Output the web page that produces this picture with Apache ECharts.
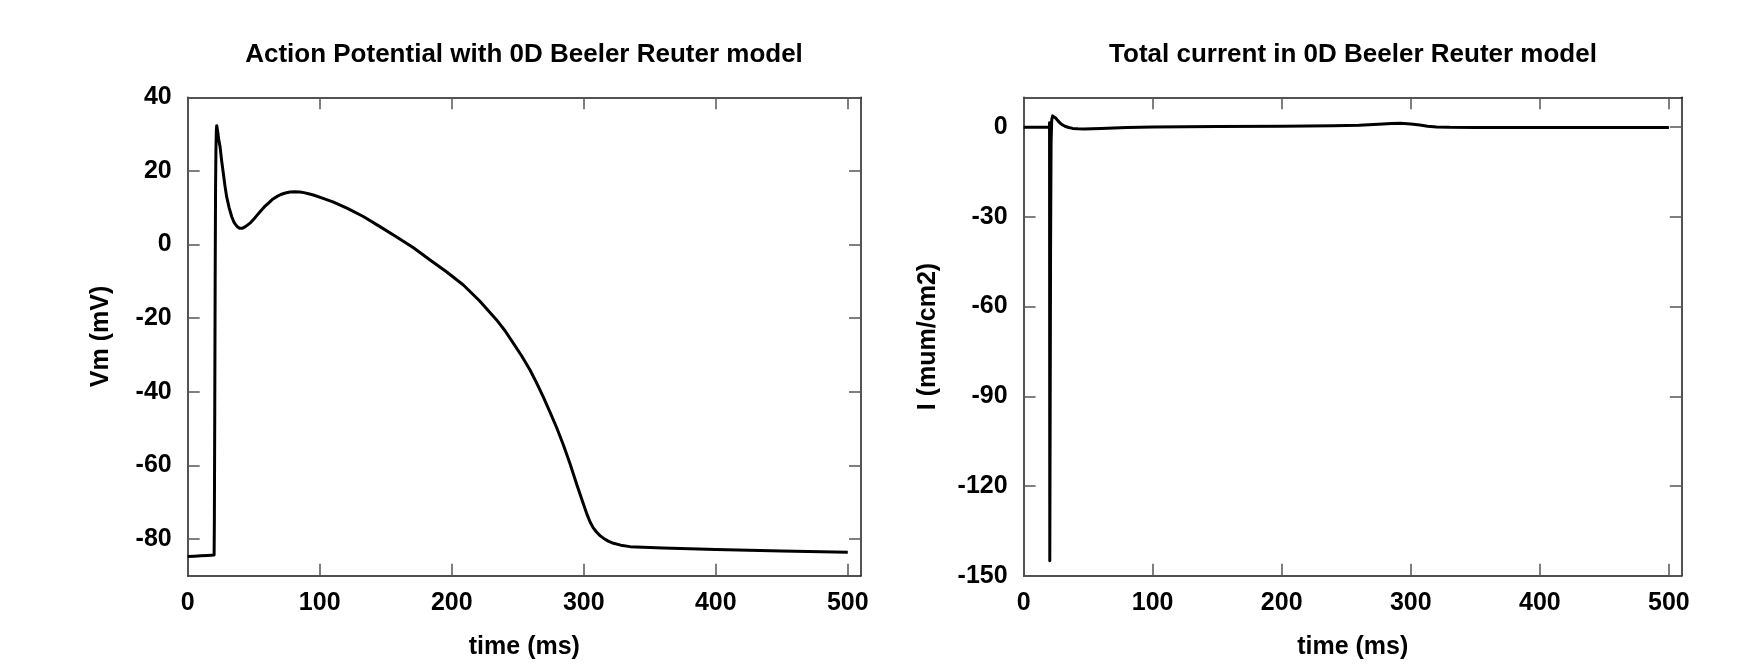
<!DOCTYPE html>
<html>
<head>
<meta charset="utf-8">
<script src="https://cdn.jsdelivr.net/npm/echarts@6.0.0/dist/echarts.min.js"></script>
<style>
html,body{margin:0;padding:0;background:#fff;}
#chart{width:1752px;height:665px;}
</style>
</head>
<body>
<div id="chart"></div>
<script>
// ---- Data ----
var apTime = [0, 5, 10, 15, 20, 20.2, 20.5, 20.8, 21.1, 21.4, 21.7, 22, 22.3, 22.8, 23.5, 24.5, 25.7, 27, 28.2, 29.5, 31.3, 33.3, 35, 36.5, 38, 39.6, 41.3, 43, 45, 47.2, 51, 54.8, 58, 61, 64, 67.4, 70.5, 74, 77.5, 81.3, 85, 88, 91.5, 95.2, 102, 110, 121, 133, 145, 158, 171, 183.6, 196, 208.8, 221, 234, 240.5, 246.6, 253, 259.3, 264, 269.4, 274.5, 279.5, 284.5, 289.6, 294.7, 299.8, 302.3, 304.8, 307.2, 309.8, 312.3, 314.9, 318.5, 322.5, 328, 335, 345, 360, 400, 450, 500];
var apVm   = [-84.8, -84.7, -84.6, -84.5, -84.4, -75, -45, -10, 15, 26, 31, 32.3, 32.0, 30.5, 28.5, 26.6, 22.8, 19.3, 16, 13, 10.1, 7.6, 6.1, 5.3, 4.7, 4.4, 4.4, 4.7, 5.2, 5.8, 7.3, 8.9, 10.2, 11.2, 12.2, 13, 13.6, 14.0, 14.25, 14.35, 14.25, 14.1, 13.8, 13.45, 12.6, 11.6, 9.8, 7.6, 5.0, 2.1, -0.9, -4.2, -7.4, -11.0, -15.3, -20.5, -23.5, -26.8, -30.3, -34.1, -37.4, -41.5, -45.6, -49.8, -54.4, -59.6, -65.2, -70.6, -73.2, -75.4, -77.0, -78.2, -79.1, -79.8, -80.6, -81.2, -81.7, -82.1, -82.3, -82.5, -82.9, -83.3, -83.6];

var curTime = [0, 10, 20, 20.1, 20.3, 20.9, 21.3, 21.8, 22.5, 23.2, 24, 25, 26.5, 28, 30, 32, 35, 38, 42, 47, 53, 60, 70, 80, 100, 150, 200, 240, 260, 275, 285, 292, 300, 307, 313, 320, 330, 350, 400, 500];
var curI    = [0, 0, 0, 1.5, -145, -40, -5, 2.5, 3.8, 4.0, 3.7, 3.0, 2.2, 1.5, 0.8, 0.3, -0.1, -0.4, -0.55, -0.6, -0.5, -0.4, -0.25, -0.1, 0.1, 0.2, 0.3, 0.45, 0.65, 1.0, 1.25, 1.3, 1.1, 0.7, 0.35, 0.1, -0.05, -0.1, -0.1, -0.1];

var timeTicks = [0, 100, 200, 300, 400, 500];
var vmTicks = [-80, -60, -40, -20, 0, 20, 40];
var curTicks = [-150, -120, -90, -60, -30, 0];

var titles = ['Action Potential with 0D Beeler Reuter model', 'Total current in 0D Beeler Reuter model'];
var xName = 'time (ms)';
var yNames = ['Vm (mV)', 'I (mum/cm2)'];

function pairs(xs, ys) { return xs.map(function (x, i) { return [x, ys[i]]; }); }

var FONT = "'Liberation Sans', Arial, Helvetica, sans-serif";
var lineStyleAxis = { color: '#1a1a1a', width: 1.5 };
var tickStyle = { color: '#555', width: 1.5 };

function makeX(gridIndex, pos, showLabels) {
  return {
    type: 'value', gridIndex: gridIndex, position: pos, min: 0, max: 510,
    axisLine: { show: true, onZero: false, lineStyle: lineStyleAxis },
    axisTick: { show: true, inside: true, length: 12, lineStyle: tickStyle, customValues: timeTicks },
    axisLabel: { show: showLabels, customValues: timeTicks, margin: 15, color: '#000', fontFamily: FONT, fontWeight: 'bold', fontSize: 25 },
    splitLine: { show: false },
    name: showLabels ? xName : '', nameLocation: 'middle', nameGap: 59,
    nameTextStyle: { color: '#000', fontFamily: FONT, fontWeight: 'bold', fontSize: 25 }
  };
}
function makeY(gridIndex, pos, showLabels, mn, mx, ticks, nm, gap) {
  return {
    type: 'value', gridIndex: gridIndex, position: pos, min: mn, max: mx,
    axisLine: { show: true, onZero: false, lineStyle: lineStyleAxis },
    axisTick: { show: true, inside: true, length: 12, lineStyle: tickStyle, customValues: ticks },
    axisLabel: { show: showLabels, customValues: ticks, margin: 16, color: '#000', fontFamily: FONT, fontWeight: 'bold', fontSize: 25 },
    splitLine: { show: false },
    name: showLabels ? nm : '', nameLocation: 'middle', nameGap: gap, nameRotate: 90,
    nameTextStyle: { color: '#000', fontFamily: FONT, fontWeight: 'bold', fontSize: 25 }
  };
}

var chart = echarts.init(document.getElementById('chart'), null, { renderer: 'canvas' });
chart.setOption({
  backgroundColor: '#fff',
  animation: false,
  title: [
    { text: titles[0], left: 524, top: 42, padding: 0, textAlign: 'center',
      textStyle: { color: '#000', fontFamily: FONT, fontWeight: 'bold', fontSize: 26 } },
    { text: titles[1], left: 1353, top: 42, padding: 0, textAlign: 'center',
      textStyle: { color: '#000', fontFamily: FONT, fontWeight: 'bold', fontSize: 26 } }
  ],
  grid: [
    { left: 187.7, top: 97.3, width: 673.3, height: 478.4 },
    { left: 1023.6, top: 97.3, width: 658.2, height: 478.4 }
  ],
  xAxis: [
    makeX(0, 'bottom', true), makeX(0, 'top', false),
    makeX(1, 'bottom', true), makeX(1, 'top', false)
  ],
  yAxis: [
    makeY(0, 'left', true, -90, 40, vmTicks, yNames[0], 74),
    makeY(0, 'right', false, -90, 40, vmTicks, '', 0),
    makeY(1, 'left', true, -150, 10, curTicks, yNames[1], 83),
    makeY(1, 'right', false, -150, 10, curTicks, '', 0)
  ],
  series: [
    { type: 'line', xAxisIndex: 0, yAxisIndex: 0, data: pairs(apTime, apVm), showSymbol: false,
      smooth: false, lineStyle: { color: '#000', width: 3, join: 'round' } },
    { type: 'line', xAxisIndex: 2, yAxisIndex: 2, data: pairs(curTime, curI), showSymbol: false,
      smooth: false, lineStyle: { color: '#000', width: 3, join: 'round' } }
  ]
});
</script>
</body>
</html>
